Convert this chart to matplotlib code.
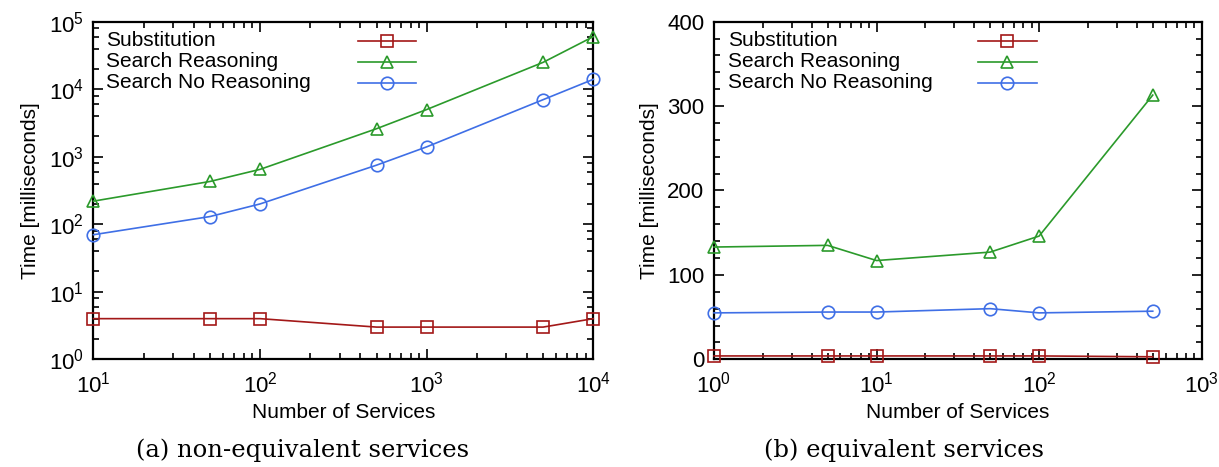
import matplotlib
matplotlib.use('Agg')
import matplotlib.pyplot as plt
from matplotlib.ticker import LogLocator, MultipleLocator, NullFormatter

plt.rcParams['font.family'] = ['Liberation Sans', 'DejaVu Sans']
plt.rcParams['mathtext.default'] = 'regular'

# (a) non-equivalent services
services_a = [10, 50, 100, 500, 1000, 5000, 10000]
subst_a = [4, 4, 4, 3, 3, 3, 4]
reason_a = [220, 430, 650, 2600, 5000, 25000, 60000]
noreason_a = [70, 130, 200, 750, 1400, 7000, 14000]

# (b) equivalent services
services_b = [1, 5, 10, 50, 100, 500]
subst_b = [4, 4, 4, 4, 4, 3]
reason_b = [133, 135, 117, 127, 146, 313]
noreason_b = [55, 56, 56, 60, 55, 57]

labels = ['Substitution', 'Search Reasoning', 'Search No Reasoning']
colors = ['#a31818', '#2b9a2b', '#3f6fe6']
markers = ['s', '^', 'o']

FS = 15


def style_axes(ax):
    ax.tick_params(which='both', direction='in', top=True, right=True, labelsize=16)
    ax.tick_params(axis='x', pad=9)
    ax.tick_params(axis='y', pad=7)
    ax.tick_params(which='major', length=7, width=1.2)
    ax.tick_params(which='minor', length=4, width=1.2)
    for s in ax.spines.values():
        s.set_linewidth(1.6)
    ax.set_xlabel('Number of Services', fontsize=FS, labelpad=4)
    ax.set_ylabel('Time [milliseconds]', fontsize=FS, labelpad=6)


def draw_series(ax, x, ys):
    for y, c, m in zip(ys, colors, markers):
        ax.plot(x, y, color=c, marker=m, markersize=9, markerfacecolor='none',
                markeredgewidth=1.2, linewidth=1.2, clip_on=False, zorder=3)


def draw_key(ax, tx, x0, x1):
    # gnuplot style key: text on the left, sample on the right
    rows = [0.944, 0.882, 0.819]
    for lab, c, m, ry in zip(labels, colors, markers, rows):
        ax.text(tx, ry, lab, transform=ax.transAxes, fontsize=FS, va='center', ha='left')
        ax.plot([x0, x1], [ry, ry], color=c, linewidth=1.2, transform=ax.transAxes)
        ax.plot([(x0 + x1) / 2], [ry], color=c, marker=m, markersize=9,
                markerfacecolor='none', markeredgewidth=1.2, transform=ax.transAxes)


fig = plt.figure(figsize=(12.19, 4.67), dpi=100)
ax1 = fig.add_axes([0.0767, 0.2306, 0.410, 0.723])
ax2 = fig.add_axes([0.5857, 0.2306, 0.4001, 0.723])

# left plot
draw_series(ax1, services_a, [subst_a, reason_a, noreason_a])
ax1.set_xscale('log')
ax1.set_yscale('log')
ax1.set_xlim(10, 10000)
ax1.set_ylim(1, 100000)
ax1.xaxis.set_minor_locator(LogLocator(base=10, subs=range(2, 10), numticks=20))
ax1.yaxis.set_minor_locator(LogLocator(base=10, subs=[2, 4, 6, 8], numticks=20))
ax1.yaxis.set_minor_formatter(NullFormatter())
ax1.xaxis.set_minor_formatter(NullFormatter())
style_axes(ax1)
draw_key(ax1, 0.026, 0.529, 0.645)

# right plot
draw_series(ax2, services_b, [subst_b, reason_b, noreason_b])
ax2.set_xscale('log')
ax2.set_xlim(1, 1000)
ax2.set_ylim(0, 400)
ax2.xaxis.set_minor_locator(LogLocator(base=10, subs=range(2, 10), numticks=20))
ax2.xaxis.set_minor_formatter(NullFormatter())
ax2.yaxis.set_major_locator(MultipleLocator(100))
ax2.yaxis.set_minor_locator(MultipleLocator(20))
style_axes(ax2)
draw_key(ax2, 0.029, 0.541, 0.662)

fig.text(0.248, 0.036, '(a) non-equivalent services', ha='center', va='center',
         fontsize=17.5, family=['DejaVu Serif'])
fig.text(0.742, 0.036, '(b) equivalent services', ha='center', va='center',
         fontsize=17.5, family=['DejaVu Serif'])

fig.savefig('out.png', dpi=100)
